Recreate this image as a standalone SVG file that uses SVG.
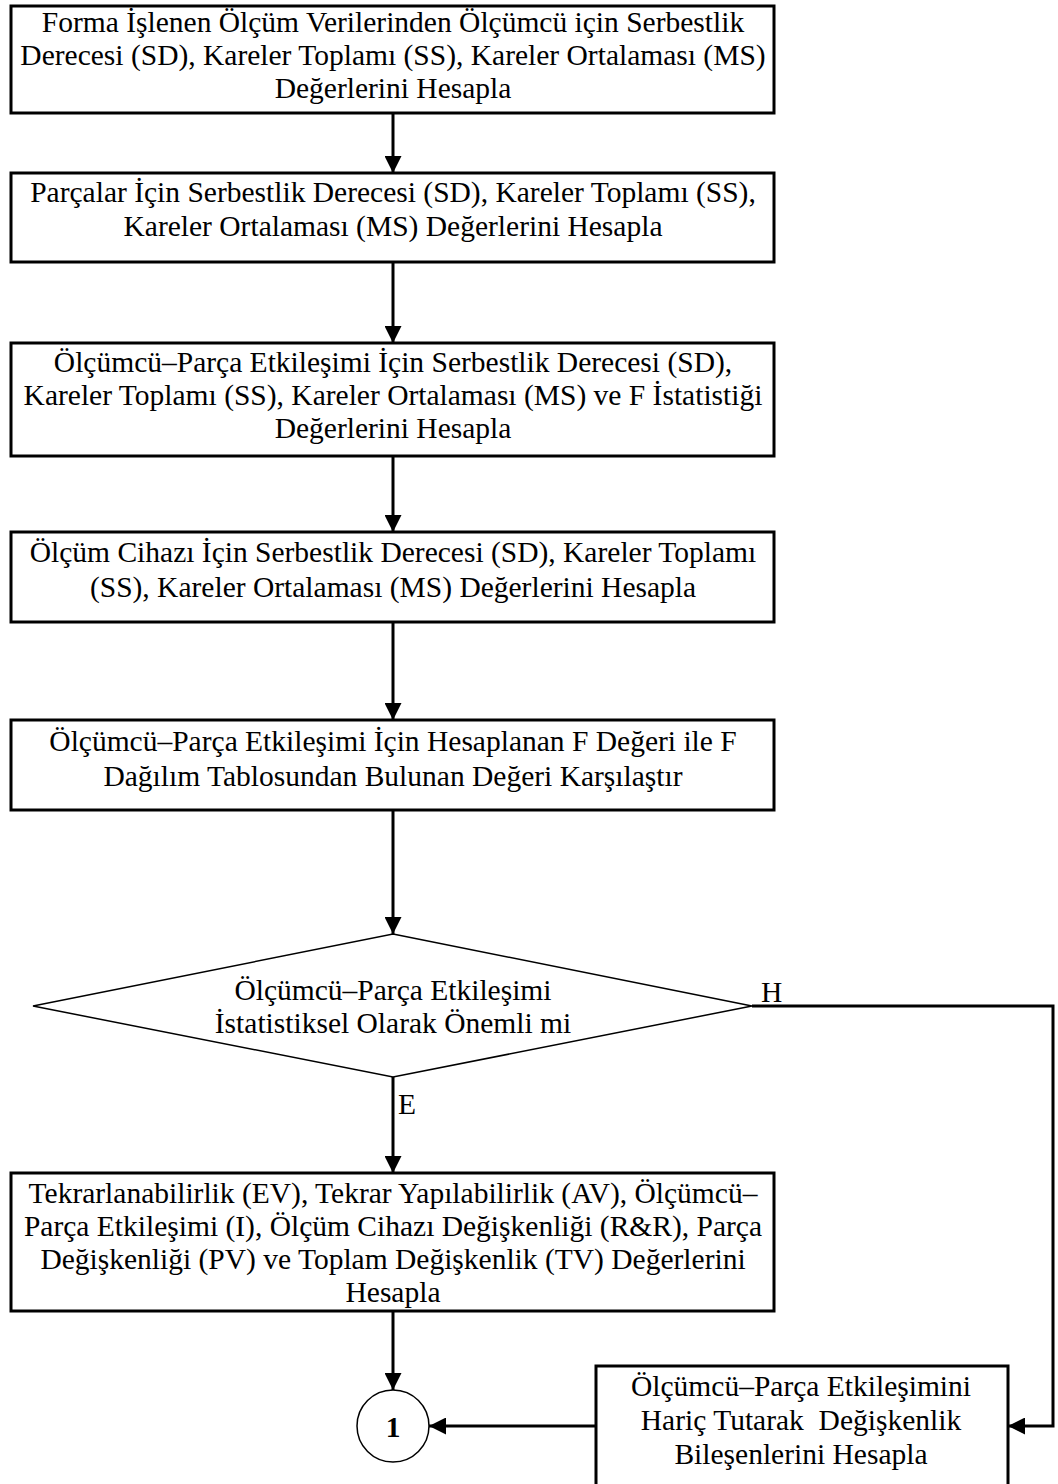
<svg xmlns="http://www.w3.org/2000/svg" width="1058" height="1484" viewBox="0 0 1058 1484">
  <style>
    .box { fill: #fff; stroke: #000; stroke-width: 3; }
    .dec { fill: #fff; stroke: #000; stroke-width: 1.5; }
    .conn { fill: none; stroke: #000; stroke-width: 3; }
    text { font-family: "Liberation Serif", "Times New Roman", serif; font-size: 29.5px; fill: #000; }
    .c { text-anchor: middle; }
    .num { font-weight: bold; }
  </style>
  <defs>
    <marker id="arrow" markerUnits="userSpaceOnUse" markerWidth="17" markerHeight="17" viewBox="0 0 17 17" refX="17" refY="8.5" orient="auto">
      <path d="M0,0 L17,8.5 L0,17 Z" fill="#000"/>
    </marker>
  </defs>

  <!-- connectors -->
  <g id="connectors">
    <line class="conn" x1="393" y1="113" x2="393" y2="173" marker-end="url(#arrow)"/>
    <line class="conn" x1="393" y1="262" x2="393" y2="343" marker-end="url(#arrow)"/>
    <line class="conn" x1="393" y1="456" x2="393" y2="532" marker-end="url(#arrow)"/>
    <line class="conn" x1="393" y1="622" x2="393" y2="720" marker-end="url(#arrow)"/>
    <line class="conn" x1="393" y1="810" x2="393" y2="934" marker-end="url(#arrow)"/>
    <line class="conn" x1="393" y1="1077" x2="393" y2="1173" marker-end="url(#arrow)"/>
    <line class="conn" x1="393" y1="1311" x2="393" y2="1390" marker-end="url(#arrow)"/>
    <polyline class="conn" points="752,1006 1053,1006 1053,1426 1008,1426" marker-end="url(#arrow)"/>
    <line class="conn" x1="596" y1="1426" x2="429" y2="1426" marker-end="url(#arrow)"/>
    <text x="761" y="1002">H</text>
    <text x="398" y="1114">E</text>
  </g>

  <g id="n1">
    <rect class="box" x="11" y="6" width="763" height="107"/>
    <text class="c" x="393" y="32">Forma İşlenen Ölçüm Verilerinden Ölçümcü için Serbestlik</text>
    <text class="c" x="393" y="65">Derecesi (SD), Kareler Toplamı (SS), Kareler Ortalaması (MS)</text>
    <text class="c" x="393" y="98">Değerlerini Hesapla</text>
  </g>

  <g id="n2">
    <rect class="box" x="11" y="173" width="763" height="89"/>
    <text class="c" x="393" y="202">Parçalar İçin Serbestlik Derecesi (SD), Kareler Toplamı (SS),</text>
    <text class="c" x="393" y="236">Kareler Ortalaması (MS) Değerlerini Hesapla</text>
  </g>

  <g id="n3">
    <rect class="box" x="11" y="343" width="763" height="113"/>
    <text class="c" x="393" y="372">Ölçümcü–Parça Etkileşimi İçin Serbestlik Derecesi (SD),</text>
    <text class="c" x="393" y="405">Kareler Toplamı (SS), Kareler Ortalaması (MS) ve F İstatistiği</text>
    <text class="c" x="393" y="438">Değerlerini Hesapla</text>
  </g>

  <g id="n4">
    <rect class="box" x="11" y="532" width="763" height="90"/>
    <text class="c" x="393" y="562">Ölçüm Cihazı İçin Serbestlik Derecesi (SD), Kareler Toplamı</text>
    <text class="c" x="393" y="597">(SS), Kareler Ortalaması (MS) Değerlerini Hesapla</text>
  </g>

  <g id="n5">
    <rect class="box" x="11" y="720" width="763" height="90"/>
    <text class="c" x="393" y="751">Ölçümcü–Parça Etkileşimi İçin Hesaplanan F Değeri ile F</text>
    <text class="c" x="393" y="786">Dağılım Tablosundan Bulunan Değeri Karşılaştır</text>
  </g>

  <g id="n6">
    <polygon class="dec" points="393,934 752,1006 393,1077 33,1006"/>
    <text class="c" x="393" y="1000">Ölçümcü–Parça Etkileşimi</text>
    <text class="c" x="393" y="1033">İstatistiksel Olarak Önemli mi</text>
  </g>

  <g id="n7">
    <rect class="box" x="11" y="1173" width="763" height="138"/>
    <text class="c" x="393" y="1203">Tekrarlanabilirlik (EV), Tekrar Yapılabilirlik (AV), Ölçümcü–</text>
    <text class="c" x="393" y="1236">Parça Etkileşimi (I), Ölçüm Cihazı Değişkenliği (R&amp;R), Parça</text>
    <text class="c" x="393" y="1269">Değişkenliği (PV) ve Toplam Değişkenlik (TV) Değerlerini</text>
    <text class="c" x="393" y="1302">Hesapla</text>
  </g>

  <g id="n8">
    <rect class="box" x="596" y="1366" width="412" height="125"/>
    <text class="c" x="801" y="1396">Ölçümcü–Parça Etkileşimini</text>
    <text class="c" x="801" y="1430" xml:space="preserve">Hariç Tutarak  Değişkenlik</text>
    <text class="c" x="801" y="1464">Bileşenlerini Hesapla</text>
  </g>

  <g id="n9">
    <circle class="dec" cx="393" cy="1426" r="36"/>
    <text class="c num" x="393" y="1437">1</text>
  </g>
</svg>
